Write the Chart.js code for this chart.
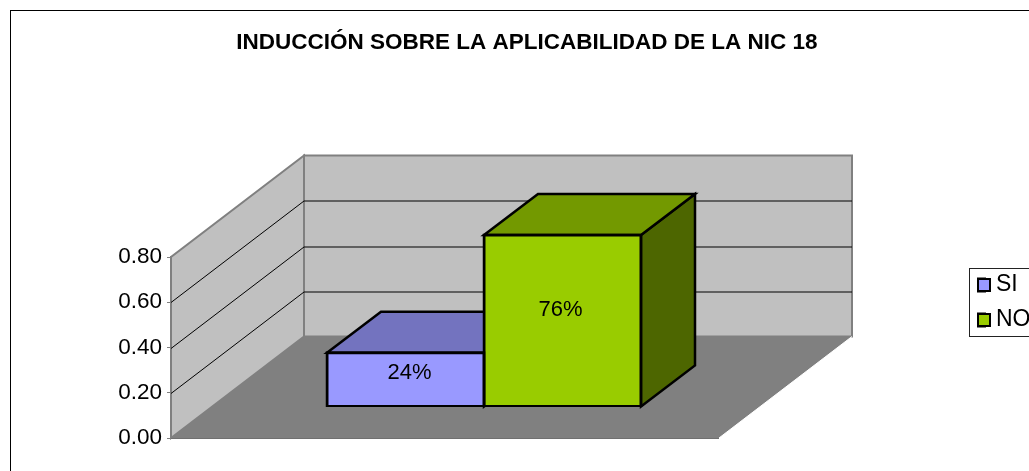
<!DOCTYPE html>
<html>
<head>
<meta charset="utf-8">
<script src="https://cdn.jsdelivr.net/npm/chart.js@4"></script>
<style>
  html, body { margin: 0; padding: 0; width: 1029px; height: 471px; overflow: hidden; background: #fff; }
  canvas { display: block; }
</style>
</head>
<body>
<canvas id="chart" width="1054" height="520"></canvas>
<script>
const categories = [''];
const seriesNames = ['SI', 'NO'];
const siValues = [0.24];
const noValues = [0.76];
const yTickLabels = ['0.00', '0.20', '0.40', '0.60', '0.80'];
const yTickValues = [0, 0.2, 0.4, 0.6, 0.8];

// 3D look: how far the walls and the bars are pushed back
const WALL_DX = 133, WALL_DY = -101.5;
const BAR_SHIFT_X = 39, BAR_SHIFT_Y = -31;
const BAR_DX = 54, BAR_DY = -41;
const faceColors = [
  { front: '#9999FF', top: '#7373BF', side: '#5C5C99' },
  { front: '#99CC00', top: '#739900', side: '#4D6600' }
];
const labelOffsets = [[4, -7], [-2, -11]];
const FONT = '"Liberation Sans", Arial, sans-serif';

function poly(ctx, pts, fill, stroke, lineWidth) {
  ctx.beginPath();
  pts.forEach((p, i) => (i ? ctx.lineTo(p[0], p[1]) : ctx.moveTo(p[0], p[1])));
  ctx.closePath();
  if (fill) { ctx.fillStyle = fill; ctx.fill(); }
  if (stroke) { ctx.strokeStyle = stroke; ctx.lineWidth = lineWidth; ctx.stroke(); }
}

const box3d = {
  id: 'box3d',
  afterLayout(chart) {
    // title centred on the whole chart, legend where the reference has it
    chart.titleBlock.left = 0;
    chart.titleBlock.right = 1054;
    const lg = chart.legend;
    lg.left = 966.5;
    lg.right = 1054;
    lg.top = 261.5;
    lg.bottom = 345;
  },
  beforeDatasetsDraw(chart) {
    const { ctx, scales: { x, y } } = chart;
    const l = x.left, r = x.right, t = y.top, b = y.bottom;
    ctx.save();
    // outer frame of the chart
    ctx.strokeStyle = '#000';
    ctx.lineWidth = 1;
    ctx.strokeRect(10.5, 10.5, 1034, 600);
    // floor, side wall, back wall
    poly(ctx, [[l, b], [l + WALL_DX, b + WALL_DY], [r + WALL_DX, b + WALL_DY], [r, b]], '#808080', null);
    poly(ctx, [[l, b], [l, t], [l + WALL_DX, t + WALL_DY], [l + WALL_DX, b + WALL_DY]], '#C0C0C0', '#808080', 2);
    poly(ctx, [[l + WALL_DX, t + WALL_DY], [r + WALL_DX, t + WALL_DY], [r + WALL_DX, b + WALL_DY], [l + WALL_DX, b + WALL_DY]], '#C0C0C0', '#808080', 2);
    // floor edges
    ctx.strokeStyle = '#fff';
    ctx.lineWidth = 1;
    ctx.beginPath();
    ctx.moveTo(r + WALL_DX, b + WALL_DY);
    ctx.lineTo(r, b);
    ctx.stroke();
    ctx.strokeStyle = '#707070';
    ctx.beginPath();
    ctx.moveTo(l, b + 0.5);
    ctx.lineTo(r, b + 0.5);
    ctx.stroke();
    // grid lines over side and back wall
    ctx.strokeStyle = '#000';
    ctx.lineWidth = 1;
    yTickValues.slice(1, -1).forEach(v => {
      const py = Math.round(y.getPixelForValue(v)) + 0.5;
      ctx.beginPath();
      ctx.moveTo(l, py);
      ctx.lineTo(l + WALL_DX, py + WALL_DY);
      ctx.lineTo(r + WALL_DX, py + WALL_DY);
      ctx.stroke();
    });
    // top and side faces of the bars
    chart.data.datasets.forEach((ds, i) => {
      const bar = chart.getDatasetMeta(i).data[0];
      const x0 = bar.x - bar.width / 2 + BAR_SHIFT_X;
      const x1 = bar.x + bar.width / 2 + BAR_SHIFT_X;
      const yT = bar.y + BAR_SHIFT_Y;
      const yB = bar.base + BAR_SHIFT_Y;
      poly(ctx, [[x1, yT], [x1 + BAR_DX, yT + BAR_DY], [x1 + BAR_DX, yB + BAR_DY], [x1, yB]], faceColors[i].side, '#000', 2.5);
      poly(ctx, [[x0, yT], [x0 + BAR_DX, yT + BAR_DY], [x1 + BAR_DX, yT + BAR_DY], [x1, yT]], faceColors[i].top, '#000', 2.5);
    });
    ctx.restore();
    // the library draws the front faces, pushed back onto the floor
    ctx.save();
    ctx.translate(BAR_SHIFT_X, BAR_SHIFT_Y);
  },
  afterDatasetsDraw(chart) {
    const { ctx } = chart;
    ctx.restore();
    ctx.save();
    ctx.fillStyle = '#000';
    ctx.font = '22px ' + FONT;
    ctx.textAlign = 'center';
    ctx.textBaseline = 'middle';
    chart.data.datasets.forEach((ds, i) => {
      const bar = chart.getDatasetMeta(i).data[0];
      const cx = bar.x + BAR_SHIFT_X + labelOffsets[i][0];
      const cy = (bar.y + bar.base) / 2 + BAR_SHIFT_Y + labelOffsets[i][1];
      ctx.fillText(Math.round(ds.data[0] * 100) + '%', cx, cy);
    });
    ctx.restore();
  },
  afterDraw(chart) {
    const { ctx, legend } = chart;
    ctx.save();
    ctx.strokeStyle = '#222';
    ctx.lineWidth = 1;
    ctx.strokeRect(969.5, 268.5, 100, 68);
    // wider swatches on top of the narrow native boxes
    legend.legendHitBoxes.forEach((hit, i) => {
      poly(ctx, [[978, 279 + i * 35], [990, 279 + i * 35], [990, 291 + i * 35], [978, 291 + i * 35]], faceColors[i].front, '#000', 2);
    });
    ctx.restore();
  }
};

new Chart(document.getElementById('chart').getContext('2d'), {
  type: 'bar',
  data: {
    labels: categories,
    datasets: [
      { label: seriesNames[0], data: siValues, backgroundColor: faceColors[0].front, borderColor: '#000', borderWidth: 3, borderSkipped: false, inflateAmount: 1.5 },
      { label: seriesNames[1], data: noValues, backgroundColor: faceColors[1].front, borderColor: '#000', borderWidth: 3, borderSkipped: false, inflateAmount: 1.5 }
    ]
  },
  options: {
    responsive: false,
    animation: false,
    categoryPercentage: 0.573,
    barPercentage: 1,
    layout: { padding: { left: 0, top: 0, right: 265, bottom: 82 } },
    scales: {
      x: { display: false },
      y: {
        min: 0,
        max: 0.8,
        afterFit: scale => { scale.width = 171; },
        afterBuildTicks: scale => { scale.ticks = yTickValues.map(value => ({ value })); },
        border: { color: '#808080', width: 2 },
        grid: { drawOnChartArea: false, color: '#808080', tickLength: 4 },
        ticks: {
          color: '#000',
          padding: 5,
          font: { family: FONT, size: 22.5 },
          callback: (value, i) => yTickLabels[i]
        }
      }
    },
    plugins: {
      tooltip: { enabled: false },
      title: {
        display: true,
        text: 'INDUCCIÓN SOBRE LA APLICABILIDAD DE LA NIC 18',
        color: '#000',
        font: { family: FONT, size: 22.5, weight: 'bold' },
        padding: { top: 29.5, bottom: 200.5 }
      },
      legend: {
        display: true,
        position: 'right',
        align: 'start',
        maxWidth: 70,
        labels: {
          color: '#000',
          boxWidth: 6,
          boxHeight: 12,
          padding: 12,
          font: { family: FONT, size: 23 }
        }
      }
    }
  },
  plugins: [box3d]
});
</script>
</body>
</html>
